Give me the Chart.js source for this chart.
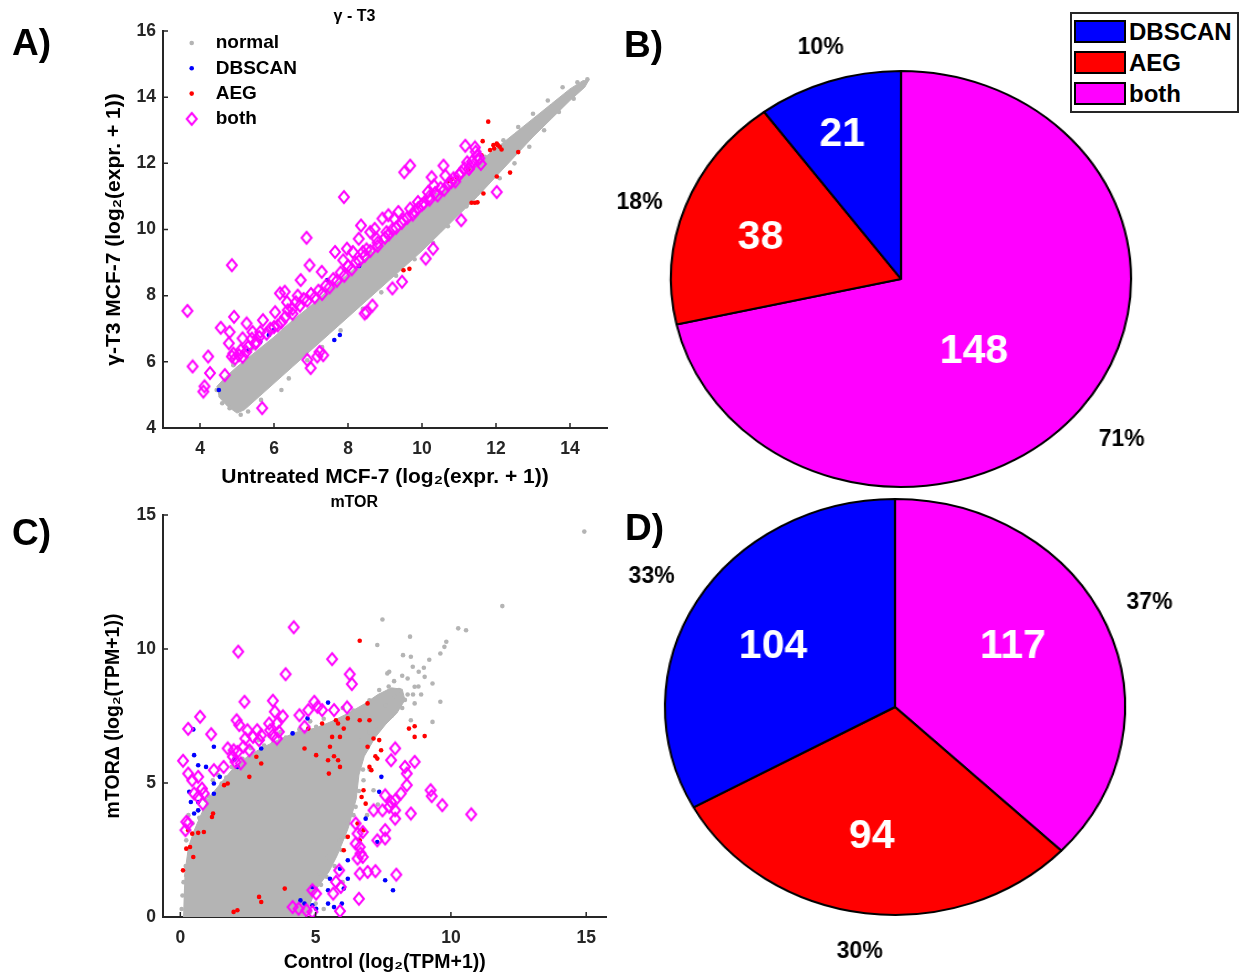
<!DOCTYPE html>
<html lang="en">
<head>
  <meta charset="UTF-8">
  <title>DBSCAN / AEG outlier genes</title>
  <script src="https://cdn.jsdelivr.net/npm/chart.js"></script>
  <style>
    body{margin:0;background:#fff;font-family:"Liberation Sans",Arial,sans-serif}
    #fig{position:relative;width:1243px;height:977px;overflow:hidden}
    #fig canvas{position:absolute}
    .panel{position:absolute;font-weight:bold;font-size:37px;line-height:37px;color:#000}
    .pie{transform-origin:50% 50%;transform:scaleX(1.106)}
    #pieLegend{position:absolute;left:1070px;top:12px;width:165px;height:97px;border:2px solid #262626;background:#fff;z-index:5}
    #pieLegend .sw{position:absolute;left:2px;width:48px;height:19px;border:2px solid #000}
    #pieLegend .tx{position:absolute;left:57px;font-weight:bold;font-size:24px;line-height:23px;color:#000}
  </style>
</head>
<body>
<div id="fig">
  <canvas id="scatterA" width="620" height="490" style="left:0;top:0"></canvas>
  <canvas id="scatterC" width="620" height="487" style="left:0;top:490px"></canvas>
  <canvas id="pieB" class="pie" width="540" height="540" style="left:631px;top:9px"></canvas>
  <canvas id="pieD" class="pie" width="540" height="540" style="left:625px;top:437px"></canvas>
  <div id="pieLegend"></div>
  <div class="panel" style="left:12px;top:24px">A)</div>
  <div class="panel" style="left:624px;top:26px">B)</div>
  <div class="panel" style="left:12px;top:514px">C)</div>
  <div class="panel" style="left:625px;top:509px">D)</div>
</div>

<script>
/* ---------- data ---------- */
const ticksAx = [4, 6, 8, 10, 12, 14];
const ticksAy = [4, 6, 8, 10, 12, 14, 16];
const ticksCx = [0, 5, 10, 15];
const ticksCy = [0, 5, 10, 15];

// gamma-T3: dense core of the unchanged genes (outline) plus the loose ones
const coreA = [
  [4.45,5.25],[4.7,5.55],[5.0,5.85],[5.5,6.3],[6.0,6.75],[6.5,7.25],[7.0,7.7],[7.5,8.2],[8.0,8.65],
  [8.5,9.15],[9.0,9.65],[9.5,10.15],[10.0,10.6],[10.5,11.1],[11.0,11.55],[11.5,12.0],[12.0,12.45],
  [12.5,12.9],[13.0,13.35],[13.5,13.8],[14.0,14.25],[14.35,14.5],[14.5,14.5],
  [14.4,14.3],[14.0,13.9],[13.5,13.35],[13.0,12.8],[12.5,12.2],[12.0,11.6],[11.5,11.0],[11.0,10.45],
  [10.5,9.9],[10.0,9.35],[9.5,8.85],[9.0,8.35],[8.5,7.85],[8.0,7.35],[7.5,6.85],[7.0,6.35],[6.5,5.85],
  [6.0,5.35],[5.6,4.95],[5.2,4.55],[5.0,4.45],[4.75,4.65],[4.5,4.95]
];
const normalA = [
  [4.45,5.15],[4.6,4.75],[4.8,4.6],[5.1,4.4],[5.3,4.5],[5.65,4.85],[6.2,5.15],[6.4,5.5],[6.9,6.05],
  [7.3,6.45],[7.8,6.95],[8.4,7.6],[8.9,8.1],[9.3,8.6],[9.8,9.1],[10.3,9.6],[10.7,10.1],[11.2,10.7],
  [11.6,11.2],[12.1,11.55],[12.5,12.0],[12.9,12.5],[13.3,13.0],[13.7,13.55],[14.1,13.95],[12.6,13.1],
  [13.0,13.5],[13.4,13.9],[13.8,14.3],[14.2,14.45],[14.47,14.54],[12.2,12.7],[11.7,12.2],[11.3,11.85],
  [10.6,11.3],[5.4,6.4],[5.9,6.9],[6.4,7.4],[4.9,5.9],[7.9,8.8],[9.2,9.9],[10.4,11.05],[8.6,9.3]
];
const dbscanA = [
  [4.51,5.15],[5.63,6.61],[5.86,6.81],[6.0,6.96],[7.63,6.66],[7.78,6.81],[7.44,8.47],[8.3,8.9],[5.3,6.35]
];
const aegA = [
  [11.79,13.26],[11.64,12.67],[11.84,12.4],[11.93,12.55],[12.02,12.6],[12.1,12.5],[12.15,12.42],
  [11.61,12.24],[12.6,12.34],[12.38,11.72],[12.02,11.6],[11.66,11.09],[11.34,10.81],[11.43,10.81],
  [11.5,10.82],[11.25,11.82],[10.94,11.57],[10.8,11.52],[10.71,11.46],[9.5,8.77],[9.66,8.81],
  [11.95,12.45],[12.05,12.55]
];
const bothA = [
  [3.66,7.54],[3.80,5.86],[4.12,5.26],[4.09,5.1],[4.22,6.16],[4.27,5.66],[4.56,7.03],[4.8,6.9],
  [4.92,7.36],[4.78,6.56],[4.67,5.6],[4.86,6.16],[4.95,6.1],[5.05,6.2],[5.15,6.15],[5.25,6.3],
  [5.26,7.16],[5.42,6.9],[5.4,6.7],[5.52,6.6],[5.15,6.71],[4.86,8.92],[5.68,4.6],[5.7,7.26],
  [5.63,6.9],[6.03,7.5],[6.16,8.07],[6.29,8.12],[6.35,7.8],[6.37,7.56],[6.59,7.8],[6.64,8.0],
  [6.72,8.47],[6.88,9.75],[6.96,8.92],[7.29,8.72],[6.99,5.81],[6.9,6.06],[7.17,6.16],[7.33,6.2],
  [7.23,6.3],[7.89,10.98],[7.65,9.32],[7.87,9.07],[7.97,9.42],[8.13,9.32],[8.29,9.72],[8.35,10.12],
  [8.6,9.92],[8.4,9.32],[8.5,7.5],[8.66,7.7],[8.45,7.46],[8.72,10.02],[8.93,10.33],[9.09,10.43],
  [9.25,10.33],[9.36,10.53],[9.04,9.92],[8.77,9.72],[9.2,8.22],[9.46,8.42],[9.52,11.73],[9.68,11.93],
  [9.68,10.63],[9.89,10.83],[10.16,11.13],[10.32,11.33],[10.26,11.58],[10.42,11.03],[10.1,9.12],
  [10.3,9.42],[10.58,11.93],[10.63,11.63],[10.79,11.43],[11.06,11.73],[11.22,12.03],[11.17,12.53],
  [11.43,12.48],[11.49,12.23],[11.27,11.83],[11.59,11.98],[11.06,10.28],[12.02,11.13],
  [6.8,7.9],[7.0,8.05],[7.2,8.15],[7.4,8.3],[7.6,8.5],[7.8,8.7],[8.0,8.9],[6.5,7.6],[6.1,7.1],[5.9,7.0],
  [8.2,9.0],[8.5,9.4],[8.8,9.6],[9.2,10.0],[9.5,10.3],[9.8,10.55],[10.0,10.75],[10.2,10.9],
  [10.6,11.2],[10.9,11.45],[11.3,11.9],[11.5,12.1],
  [4.9,6.25],[5.1,6.35],[5.3,6.45],[5.5,6.55],[5.6,6.75],[5.8,6.85],[6.0,7.05],[6.2,7.2],[6.3,7.35],
  [6.5,7.45],[6.7,7.7],[6.9,7.85],[7.1,7.95],[7.3,8.05],[7.5,8.25],[7.7,8.45],[7.9,8.6],[8.1,8.8],
  [8.3,9.05],[8.45,9.2],[8.6,9.35],[8.8,9.5],[9.0,9.75],[9.1,9.85],[9.3,10.05],[9.45,10.2],[9.6,10.35],
  [9.75,10.45],[9.9,10.65],[10.05,10.8],[10.2,11.0],[10.35,11.1],[10.5,11.25],[10.7,11.35],
  [10.85,11.55],[11.0,11.65],[11.15,11.85],[11.35,12.05],[11.45,12.35],[11.55,12.15]
];

// mTOR knockout vs control
const coreC = [
  [0.1,0],[4.6,0],[5.0,1.0],[5.5,1.7],[5.8,2.3],[6.2,3.3],[6.5,4.4],[6.6,5.3],[6.8,6.0],[7.2,6.7],
  [7.6,7.2],[8.0,7.6],[8.3,8.1],[8.2,8.5],[7.8,8.55],[7.3,8.3],[6.8,7.95],[6.2,7.6],[5.6,7.3],
  [5.0,7.05],[4.3,6.9],[3.6,6.6],[3.0,6.3],[2.5,6.0],[2.0,5.6],[1.5,5.0],[1.1,4.5],[0.8,3.9],
  [0.5,3.2],[0.3,2.6],[0.15,1.5]
];
const normalC = [
  [14.93,14.38],[11.9,11.6],[7.47,11.1],[10.27,10.77],[10.56,10.7],[8.49,10.46],[9.61,9.83],
  [9.83,10.27],[9.76,10.08],[8.23,9.77],[8.52,9.71],[8.59,9.34],[8.81,9.15],[7.65,9.09],[7.72,9.15],
  [7.28,10.15],[9.03,8.96],[9.32,8.71],[8.66,8.59],[9.61,8.03],[9.32,7.28],[8.52,7.34],[8.66,7.97],
  [7.94,8.22],[8.08,8.47],[7.35,8.47],[6.99,8.09],[8.4,8.3],[8.8,8.6],[8.3,8.1],[7.6,7.9],[8.9,8.3],
  [6.12,6.72],[6.77,5.1],[7.14,4.73],[6.48,4.11],[6.19,3.49],[5.9,2.86],[5.46,2.24],[5.17,1.62],
  [4.88,1.0],[0.22,2.86],[0.66,3.98],[0.95,4.36],[1.53,4.98],[2.11,5.6],[2.69,6.1],[3.42,6.47],
  [4.15,6.85],[5.02,7.1],[5.75,7.22],[2.9,6.6],[3.7,6.9],[6.4,7.7],[7.0,7.95],[1.2,5.1],[5.3,0.3],
  [5.0,0.5],[3.5,0.15],[7.0,5.5],[7.3,4.2],[6.9,3.8],[6.0,1.3],
  [0.3,3.8],[0.45,3.5],[0.7,3.7],[0.9,4.0],[1.05,4.5],[1.3,4.6],[1.4,5.3],[1.7,5.2],[1.9,5.6],
  [2.3,5.9],[2.6,6.3],[3.1,6.4],[3.3,6.75],[3.9,6.7],[4.4,7.0],[4.8,7.3],[5.3,7.4],[6.0,7.8],
  [4.8,0.2],[4.7,0.7],[5.2,1.2],[5.4,1.5],[5.7,1.9],[5.95,2.5],[6.1,3.0],[6.4,3.8],[6.6,4.7],
  [6.75,5.5],[6.9,6.3],[7.3,7.0],[7.8,7.5],[8.2,7.8],[8.6,8.3],[7.0,6.9],[6.7,6.6],
  [0.05,0.3],[0.08,0.8],[0.12,1.3],[0.2,1.9],
  [7.9,8.8],[8.2,9.0],[8.4,8.9],[7.7,8.6],[9.0,9.3],[9.2,9.6]
];
const dbscanC = [
  [5.46,8.0],[4.7,7.41],[4.15,6.85],[0.48,7.0],[1.24,6.35],[0.51,6.04],[0.66,5.66],[0.95,5.6],
  [1.46,5.23],[2.0,5.88],[2.11,5.6],[2.99,6.29],[1.24,4.98],[1.24,4.6],[0.33,4.67],[0.39,4.29],
  [0.66,4.29],[0.51,3.86],[0.66,3.98],[7.43,5.23],[7.35,4.67],[7.28,2.8],[6.85,3.67],[6.19,2.12],
  [5.9,1.8],[5.53,1.43],[6.19,1.43],[6.04,1.06],[5.46,1.0],[4.88,1.12],[4.44,0.62],[4.59,0.5],
  [4.88,0.44],[5.02,0.31],[5.46,0.5],[5.68,0.37],[5.97,0.5],[7.57,1.37],[7.86,1.0]
];
const aegC = [
  [6.63,10.31],[6.92,7.97],[6.63,7.34],[5.75,7.34],[5.83,7.22],[6.04,7.03],[6.19,7.41],[5.61,6.72],
  [5.53,6.35],[5.9,6.72],[5.68,6.0],[5.02,6.04],[5.46,5.85],[5.83,5.85],[5.9,5.6],[5.49,5.35],
  [5.24,7.22],[4.73,7.03],[4.59,6.29],[6.99,7.34],[7.14,6.66],[7.35,6.6],[7.42,6.22],[6.92,6.35],
  [7.21,6.0],[7.28,5.91],[6.99,5.6],[7.06,5.48],[8.45,7.03],[8.66,7.12],[8.66,6.72],[9.03,6.75],
  [6.7,4.48],[6.85,4.23],[6.77,4.73],[6.55,3.49],[6.77,3.24],[6.63,2.86],[6.19,2.99],[6.04,2.49],
  [3.86,1.06],[2.91,0.75],[2.99,0.56],[1.97,0.19],[2.11,0.25],[2.81,5.98],[2.99,5.73],[2.55,5.23],
  [1.62,4.92],[1.75,4.98],[1.21,3.86],[0.29,3.24],[0.44,3.11],[0.66,3.14],[0.87,3.17],[0.36,2.61],
  [0.22,2.55],[0.48,2.24],[0.1,1.74],[1.17,3.73]
];
const bothC = [
  [4.19,10.81],[2.14,9.9],[5.61,9.62],[3.89,9.06],[6.26,9.06],[6.34,8.69],
  [0.73,7.47],[0.29,7.02],[1.14,6.82],[2.37,8.03],[3.42,8.07],[3.49,7.66],[3.79,7.49],[4.4,7.53],
  [4.73,7.72],[4.95,8.03],[5.07,7.84],[5.24,7.72],[5.68,7.72],[6.16,7.82],[4.59,7.1],[3.57,7.22],
  [2.08,7.34],[2.18,7.16],[2.48,6.97],[2.69,6.72],[2.84,6.97],[2.91,6.6],[2.4,6.66],[2.33,6.35],
  [2.11,6.16],[2.55,6.22],[2.99,6.78],[3.28,7.22],[3.42,6.78],[3.57,6.66],[3.32,6.97],[3.64,6.91],
  [1.75,6.29],[1.97,6.22],[1.94,5.98],[2.04,5.79],[2.23,5.73],
  [0.1,5.83],[0.29,5.35],[0.44,5.1],[0.66,5.23],[0.8,4.79],[0.51,4.61],[0.66,4.48],[0.87,4.61],
  [0.83,4.23],[1.24,5.48],[1.6,5.6],[0.22,3.55],[0.29,3.49],[0.19,3.24],
  [7.94,6.29],[7.79,5.85],[8.3,5.6],[8.37,5.35],[8.66,5.79],[8.37,4.92],[8.15,4.61],[7.94,4.36],
  [7.79,4.29],[7.57,4.54],[7.72,4.11],[7.94,3.98],[7.47,3.98],[7.14,3.98],[7.94,3.67],[8.52,3.86],
  [9.25,4.73],[9.29,4.51],[9.68,4.17],[10.75,3.83],
  [7.57,3.24],[7.28,2.86],[7.57,2.93],[6.48,3.49],[6.55,3.11],[6.74,3.17],[6.48,2.74],[6.63,2.61],
  [6.66,2.37],[6.55,2.18],[6.74,2.24],[6.63,1.62],[6.92,1.68],[7.21,1.71],[7.98,1.58],[6.6,0.68],
  [5.87,1.74],[5.75,1.31],[5.93,1.12],[5.65,0.87],[4.88,1.0],[5.02,0.87],[4.15,0.37],[4.37,0.31],
  [4.66,0.25],[4.88,0.19],[5.9,0.22]
];

// pies: outlier counts per method
const pieLabels = ['DBSCAN', 'AEG', 'both'];
const countsB = [21, 38, 148];
const countsD = [104, 94, 117];

/* ---------- styles ---------- */
const FONT = '"Liberation Sans", Arial, sans-serif';
const AXIS = '#262626';
const GREY = '#b4b4b4';
const BLUE = '#0000ff';
const RED = '#ff0000';
const MAGENTA = '#ff00ff';
const pieColors = [BLUE, RED, MAGENTA];
const STRETCH = 1.106;

const pts = arr => arr.map(([x, y]) => ({x, y}));

function diamond(w, h, color, lw){
  const c = document.createElement('canvas');
  c.width = w + lw * 2; c.height = h + lw * 2;
  const g = c.getContext('2d');
  const cx = c.width / 2, cy = c.height / 2;
  g.strokeStyle = color; g.lineWidth = lw;
  g.beginPath();
  g.moveTo(cx, cy - h / 2); g.lineTo(cx + w / 2, cy);
  g.lineTo(cx, cy + h / 2); g.lineTo(cx - w / 2, cy);
  g.closePath(); g.stroke();
  return c;
}
const diamondMark = diamond(10, 12, MAGENTA, 2);

// MATLAB-like ticks pointing into the plot
const inwardTicks = {
  id: 'inwardTicks',
  afterDatasetsDraw(chart){
    const {ctx, chartArea: a, scales: {x, y}} = chart;
    if (!x || !y) return;
    ctx.save();
    ctx.strokeStyle = AXIS; ctx.lineWidth = 1.5;
    ctx.beginPath();
    x.ticks.forEach(t => { const p = x.getPixelForValue(t.value); ctx.moveTo(p, a.bottom); ctx.lineTo(p, a.bottom - 5); });
    y.ticks.forEach(t => { const p = y.getPixelForValue(t.value); ctx.moveTo(a.left, p); ctx.lineTo(a.left + 5, p); });
    ctx.stroke();
    ctx.restore();
  }
};

// legend drawn inside the plot area, upper left
const innerLegend = {
  id: 'innerLegend',
  afterDraw(chart, args, opts){
    if (!opts.rows) return;
    const {ctx, chartArea: a} = chart;
    ctx.save();
    ctx.font = 'bold 19px ' + FONT;
    ctx.textBaseline = 'middle';
    opts.rows.forEach((idx, i) => {
      const ds = chart.data.datasets[idx];
      const y = a.top + 12 + i * 25.3;
      const mx = a.left + 28.7;
      if (ds.pointStyle instanceof HTMLCanvasElement){
        ctx.drawImage(ds.pointStyle, mx - ds.pointStyle.width / 2, y - ds.pointStyle.height / 2);
      } else {
        ctx.fillStyle = ds.backgroundColor;
        ctx.beginPath(); ctx.arc(mx, y, 2.3, 0, Math.PI * 2); ctx.fill();
      }
      ctx.fillStyle = '#000';
      ctx.fillText(ds.label, a.left + 52.7, y);
    });
    ctx.restore();
  }
};

function axis(min, max, ticks, title, size, titleSize, tickPad){
  return {
    type: 'linear', min, max,
    afterBuildTicks: s => { s.ticks = ticks.map(v => ({value: v})); },
    afterFit: s => { if (s.isHorizontal()) s.height = size; else s.width = size; },
    grid: {display: false, drawTicks: false},
    border: {display: true, color: AXIS, width: 2},
    ticks: {font: {family: FONT, weight: 'bold', size: 17.5}, color: AXIS, padding: tickPad},
    title: {display: true, text: title, color: '#000', padding: 0,
            font: {family: FONT, weight: 'bold', size: titleSize}}
  };
}

function dots(label, data, color, order){
  return {label, data: pts(data), backgroundColor: color, borderWidth: 0,
          pointRadius: 2.3, pointStyle: 'circle', order};
}

function scatterDatasets(core, normal, dbscan, aeg, both){
  return [
    {type: 'line', label: 'normal', data: pts(core), fill: 'shape', showLine: true,
     backgroundColor: GREY, borderColor: GREY, borderWidth: 1, pointRadius: 0, tension: 0, order: 5},
    dots('normal', normal, GREY, 4),
    dots('DBSCAN', dbscan, BLUE, 3),
    dots('AEG', aeg, RED, 2),
    {label: 'both', data: pts(both), pointStyle: diamondMark, pointRadius: 5, order: 1}
  ];
}

const baseOpts = {responsive: false, animation: false, devicePixelRatio: 1, events: []};

/* ---------- A: gamma-T3 scatter ---------- */
new Chart(document.getElementById('scatterA'), {
  type: 'scatter',
  data: {datasets: scatterDatasets(coreA, normalA, dbscanA, aegA, bothA)},
  options: {
    ...baseOpts,
    layout: {padding: {left: 102, right: 13, top: 0, bottom: 0}},
    plugins: {
      legend: {display: false}, tooltip: {enabled: false},
      title: {display: true, text: 'γ - T3', color: '#000', padding: {top: 7.4, bottom: 4.4},
              font: {family: FONT, weight: 'bold', size: 16}},
      innerLegend: {rows: [1, 2, 3, 4]}
    },
    scales: {
      x: axis(3, 15, ticksAx, 'Untreated MCF-7 (log₂(expr. + 1))', 62, 21, 11),
      y: axis(4, 16, ticksAy, 'γ-T3 MCF-7 (log₂(expr. + 1))', 61, 21, 7)
    }
  },
  plugins: [inwardTicks, innerLegend]
});

/* ---------- C: mTOR scatter ---------- */
new Chart(document.getElementById('scatterC'), {
  type: 'scatter',
  data: {datasets: scatterDatasets(coreC, normalC, dbscanC, aegC, bothC)},
  options: {
    ...baseOpts,
    layout: {padding: {left: 102, right: 13.5, top: 0, bottom: 2.3}},
    plugins: {
      legend: {display: false}, tooltip: {enabled: false},
      title: {display: true, text: 'mTOR', color: '#000', padding: {top: 3.4, bottom: 2.4},
              font: {family: FONT, weight: 'bold', size: 16}}
    },
    scales: {
      x: axis(-0.64, 15.75, ticksCx, 'Control (log₂(TPM+1))', 57.7, 19.5, 11),
      y: axis(0, 15, ticksCy, 'mTORΔ (log₂(TPM+1))', 61, 19.5, 7)
    }
  },
  plugins: [inwardTicks]
});

/* ---------- B, D: pies ---------- */
// counts inside the slices, percentages outside; text is squeezed back
// because the canvas is stretched horizontally
const sliceLabels = {
  id: 'sliceLabels',
  afterDatasetsDraw(chart, args, opts){
    const {ctx} = chart;
    const vals = chart.data.datasets[0].data;
    const total = vals.reduce((a, b) => a + b, 0);
    ctx.save();
    ctx.textAlign = 'center';
    ctx.textBaseline = 'middle';
    chart.getDatasetMeta(0).data.forEach((arc, i) => {
      const {x, y, startAngle, endAngle, outerRadius: r} =
        arc.getProps(['x', 'y', 'startAngle', 'endAngle', 'outerRadius'], true);
      const mid = (startAngle + endAngle) / 2;
      const put = (text, pos, font, color) => {
        const ang = mid + pos.da * Math.PI / 180;
        ctx.save();
        ctx.translate(x + Math.cos(ang) * pos.f * r, y + Math.sin(ang) * pos.f * r);
        ctx.scale(1 / STRETCH, 1);
        ctx.font = font; ctx.fillStyle = color;
        ctx.fillText(text, 0, 0);
        ctx.restore();
      };
      put(String(vals[i]), opts.inner[i], 'bold 41px ' + FONT, '#fff');
      put(Math.round(vals[i] / total * 100) + '%', opts.outer[i], 'bold 23px ' + FONT, '#000');
    });
    ctx.restore();
  }
};

// MATLAB draws the slices counter-clockwise from the top, so feed them reversed
function pie(id, counts, inner, outer){
  const rev = a => a.slice().reverse();
  new Chart(document.getElementById(id), {
    type: 'pie',
    data: {
      labels: rev(pieLabels),
      datasets: [{data: rev(counts), backgroundColor: rev(pieColors), borderColor: '#000', borderWidth: 2}]
    },
    options: {
      ...baseOpts,
      layout: {padding: 61},
      plugins: {legend: {display: false}, tooltip: {enabled: false}, sliceLabels: {inner, outer}}
    },
    plugins: [sliceLabels]
  });
}

pie('pieB', countsB,
    [{f: 0.473, da: 9.2}, {f: 0.642, da: -2.5}, {f: 0.738, da: -2}],
    [{f: 1.232, da: 0.2}, {f: 1.194, da: -2.6}, {f: 1.164, da: 0.8}]);
pie('pieD', countsD,
    [{f: 0.589, da: -6.4}, {f: 0.632, da: 1.8}, {f: 0.604, da: -1.9}],
    [{f: 1.214, da: -1.2}, {f: 1.186, da: 0}, {f: 1.229, da: 0}]);

// shared legend for the pies
const legendEl = document.getElementById('pieLegend');
pieLabels.forEach((name, i) => {
  const top = 6 + i * 31;
  legendEl.insertAdjacentHTML('beforeend',
    `<div class="sw" style="top:${top}px;background:${pieColors[i]}"></div>` +
    `<div class="tx" style="top:${top}px">${name}</div>`);
});
</script>
</body>
</html>
